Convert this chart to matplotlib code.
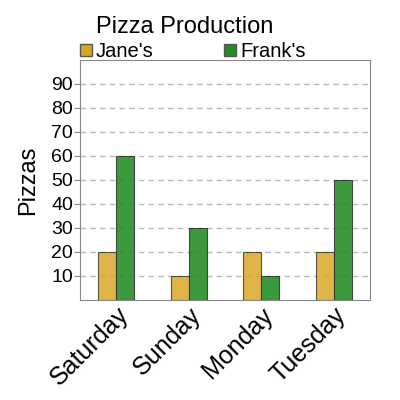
import numpy as np
import matplotlib.pyplot as plt
from matplotlib.patches import Patch

plt.rcParams['font.family'] = ['Liberation Sans', 'DejaVu Sans']

days = ["Saturday", "Sunday", "Monday", "Tuesday"]
janes = [20, 10, 20, 20]
franks = [60, 30, 10, 50]
jane_color = "#DAA520"
frank_color = "#228B22"

fig = plt.figure(figsize=(4, 4), dpi=100)
ax = fig.add_axes([0.2, 0.25, 0.725, 0.6])

x = np.arange(len(days))
w = 0.25
ax.bar(x - w / 2, janes, w, color=jane_color, alpha=0.82, edgecolor="#333333", linewidth=0.8, zorder=3)
ax.bar(x + w / 2, franks, w, color=frank_color, alpha=0.88, edgecolor="#333333", linewidth=0.8, zorder=3)

ax.set_xlim(-0.5, 3.5)
ax.set_ylim(0, 100)
ax.set_yticks(range(10, 100, 10))
ax.tick_params(axis='y', labelsize=14, length=4, pad=1, color="#888888")
ax.set_xticks(x)
ax.set_xticklabels(days, rotation=45, ha='right', rotation_mode='anchor', fontsize=18)
ax.tick_params(axis='x', length=0, pad=2)
ax.grid(axis='y', linestyle=(0, (4, 3)), color="#bbbbbb", linewidth=1, zorder=0)
for s in ax.spines.values():
    s.set_color("#888888")

ax.set_ylabel("Pizzas", fontsize=17, labelpad=9)
fig.text(0.24, 0.905, "Pizza Production", fontsize=17, va='bottom')

handles = [Patch(facecolor=jane_color, edgecolor="#555555", label="Jane's"),
           Patch(facecolor=frank_color, edgecolor="#555555", label="Frank's")]
ax.legend(handles=handles, ncol=2, loc='lower left', bbox_to_anchor=(0.0, 0.995),
          frameon=False, fontsize=14.5, handlelength=0.6, handleheight=0.6,
          handletextpad=0.2, columnspacing=3.5, borderpad=0, borderaxespad=0)

fig.savefig("out.png")
